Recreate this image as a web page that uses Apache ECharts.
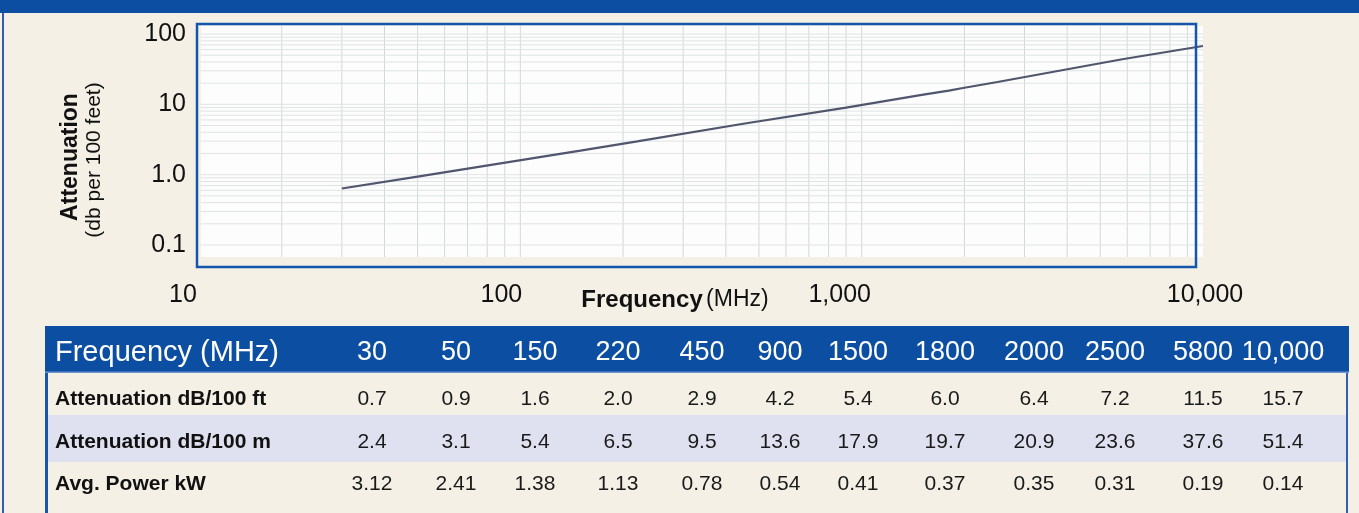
<!DOCTYPE html>
<html><head><meta charset="utf-8">
<script src="https://cdn.jsdelivr.net/npm/echarts@6/dist/echarts.min.js"></script>
<style>html,body{margin:0;padding:0;background:#f4f0e6}#c{width:1359px;height:513px}</style>
</head><body><div id="c"></div>
<script>
// ---------- data ----------
const frequencies = [30, 50, 150, 220, 450, 900, 1500, 1800, 2000, 2500, 5800, 10000];
const curveAttenuation = [0.635, 0.94, 2.2, 2.97, 5.29, 8.99, 13.6, 15.7, 17.2, 20.8, 43.7, 67.5];
const freqLabels = ['30', '50', '150', '220', '450', '900', '1500', '1800', '2000', '2500', '5800', '10,000'];
const attenPer100ft = [0.7, 0.9, 1.6, 2.0, 2.9, 4.2, 5.4, 6.0, 6.4, 7.2, 11.5, 15.7];
const attenPer100m = [2.4, 3.1, 5.4, 6.5, 9.5, 13.6, 17.9, 19.7, 20.9, 23.6, 37.6, 51.4];
const avgPowerKW = [3.12, 2.41, 1.38, 1.13, 0.78, 0.54, 0.41, 0.37, 0.35, 0.31, 0.19, 0.14];
const rowLabels = ['Attenuation dB/100 ft', 'Attenuation dB/100 m', 'Avg. Power kW'];
const xTickValues = [10, 100, 1000, 10000];
const xTickLabels = ['10', '100', '1,000', '10,000'];
const yTickValues = [0.1, 1, 10, 100];
const yTickLabels = ['0.1', '1.0', '10', '100'];
const xGridDecades = [10, 100, 1000];
const yGridDecades = [0.1, 1, 10];
const gridMultipliers = [1, 2, 3, 4, 5, 6, 7, 8, 9];

// ---------- layout / style ----------
const FONT = "'Liberation Sans', Arial, Helvetica, sans-serif";
const BLUE = '#0b4ea2';
const BG = '#f4f0e6';
const colCenters = [372, 456, 535, 618, 702, 780, 858, 945, 1034, 1115, 1203, 1283];
const rowCenters = [399, 442, 484];
const plotVisible = { xMin: 11.6, xMax: 10000, yMin: 0.0675, yMax: 130 };

const xGridValues = [];
xGridDecades.forEach(d => gridMultipliers.forEach(m => { const v = d * m; if (v > 10) xGridValues.push(v); }));
const yGridValues = [];
yGridDecades.forEach(d => gridMultipliers.forEach(m => yGridValues.push(+(d * m).toFixed(4))));
yGridValues.push(100);

function tickIndex(values, v) {
  const e = Math.round(Math.log10(v));
  return values.findIndex(t => Math.round(Math.log10(t)) === e);
}

const graphics = [];
graphics.push({ type: 'rect', shape: { x: 0, y: 0, width: 1359, height: 13 }, style: { fill: BLUE }, z: 0 });
graphics.push({ type: 'rect', shape: { x: 2, y: 13, width: 2, height: 500 }, style: { fill: '#2a60ae' }, z: 0 });
graphics.push({ type: 'rect', shape: { x: 201, y: 26, width: 1002, height: 231 }, style: { fill: '#fdfdfd' }, z: -5 });
graphics.push({ type: 'rect', shape: { x: 197, y: 24, width: 999, height: 243 }, style: { fill: null, stroke: '#1456ac', lineWidth: 2.5 }, z: 100 });
graphics.push({ type: 'text', x: 71, y: 157, rotation: Math.PI / 2,
  style: { text: 'Attenuation', font: 'bold 23px ' + FONT, fill: '#111', align: 'center', verticalAlign: 'middle' } });
graphics.push({ type: 'text', x: 94, y: 160, rotation: Math.PI / 2,
  style: { text: '(db per 100 feet)', font: '21px ' + FONT, fill: '#111', align: 'center', verticalAlign: 'middle' } });
graphics.push({ type: 'text', x: 675, y: 300,
  style: { text: '{b|Frequency} {r|(MHz)}', align: 'center', verticalAlign: 'middle',
    rich: { b: { font: 'bold 24px ' + FONT, fill: '#111' }, r: { font: '23px ' + FONT, fill: '#111' } } } });

// table
graphics.push({ type: 'rect', shape: { x: 45, y: 326, width: 1304, height: 46 }, style: { fill: BLUE } });
graphics.push({ type: 'rect', shape: { x: 48, y: 415, width: 1298, height: 47 }, style: { fill: '#e0e1f0' } });
graphics.push({ type: 'rect', shape: { x: 45, y: 371.5, width: 1304, height: 1.5 }, style: { fill: '#6d95d0' } });
graphics.push({ type: 'rect', shape: { x: 45, y: 373, width: 3, height: 140 }, style: { fill: '#1a55a8' } });
graphics.push({ type: 'rect', shape: { x: 1346, y: 373, width: 2, height: 140 }, style: { fill: '#2d62b0' } });
graphics.push({ type: 'text', x: 55, y: 353,
  style: { text: 'Frequency (MHz)', font: '29px ' + FONT, fill: '#ffffff', align: 'left', verticalAlign: 'middle' } });
freqLabels.forEach((t, i) => graphics.push({ type: 'text', x: colCenters[i], y: 353,
  style: { text: t, font: '27px ' + FONT, fill: '#ffffff', align: 'center', verticalAlign: 'middle' } }));
const rows = [attenPer100ft.map(v => v.toFixed(1)), attenPer100m.map(v => v.toFixed(1)), avgPowerKW.map(v => v.toFixed(2))];
rows.forEach((row, r) => {
  graphics.push({ type: 'text', x: 55, y: rowCenters[r],
    style: { text: rowLabels[r], font: 'bold 21px ' + FONT, fill: '#111', align: 'left', verticalAlign: 'middle' } });
  row.forEach((t, i) => graphics.push({ type: 'text', x: colCenters[i], y: rowCenters[r],
    style: { text: t, font: '21px ' + FONT, fill: '#1a1a1a', align: 'center', verticalAlign: 'middle' } }));
});

function gridRenderer(vertical, color) {
  return function (params, api) {
    let p1, p2;
    if (vertical) {
      const v = api.value(0);
      p1 = api.coord([v, plotVisible.yMin]); p2 = api.coord([v, plotVisible.yMax]);
    } else {
      const v = api.value(1);
      p1 = api.coord([plotVisible.xMin, v]); p2 = api.coord([plotVisible.xMax, v]);
    }
    return { type: 'line', silent: true,
      shape: { x1: p1[0], y1: p1[1], x2: p2[0], y2: p2[1] },
      style: { stroke: color, lineWidth: 1 } };
  };
}

const chart = echarts.init(document.getElementById('c'), null, { renderer: 'canvas' });
const tickRich = {};
[[8, 0], [0, 38], [0, 44], [4, 0]].forEach((p, i) => {
  tickRich['t' + i] = { fontSize: 25, fontFamily: FONT, color: '#111', padding: [0, p[1], 0, p[0]] };
});
chart.setOption({
  backgroundColor: BG,
  animation: false,
  grid: { left: 179, right: 156, top: 34, bottom: 268, containLabel: false, outerBoundsMode: 'none' },
  xAxis: {
    type: 'log', logBase: 10, min: 10, max: 10000, splitNumber: 3,
    axisLine: { show: false }, axisTick: { show: false }, splitLine: { show: false },
    axisLabel: {
      show: true, margin: 38, showMinLabel: true, showMaxLabel: true,
      color: '#111', fontFamily: FONT, fontSize: 25,
      formatter: v => { const i = tickIndex(xTickValues, v); return '{t' + i + '|' + xTickLabels[i] + '}'; },
      rich: tickRich
    }
  },
  yAxis: {
    type: 'log', logBase: 10, min: 0.1, max: 100, splitNumber: 3,
    axisLine: { show: false }, axisTick: { show: false }, splitLine: { show: false },
    axisLabel: {
      show: true, margin: -7, showMinLabel: true, showMaxLabel: true,
      color: '#111', fontFamily: FONT, fontSize: 25,
      formatter: v => yTickLabels[tickIndex(yTickValues, v)]
    }
  },
  graphic: { elements: graphics },
  series: [
    {
      type: 'custom', z: 1, silent: true, clip: false,
      renderItem: gridRenderer(true, '#d3d8d8'),
      data: xGridValues.map(v => [v, 1])
    },
    {
      type: 'custom', z: 1, silent: true, clip: false,
      renderItem: gridRenderer(false, '#e0e4e4'),
      data: yGridValues.map(v => [100, v])
    },
    {
      type: 'line', z: 3, silent: true, showSymbol: false, symbol: 'none', clip: false,
      lineStyle: { color: '#4f566d', width: 2.2 },
      data: frequencies.map((f, i) => [f, curveAttenuation[i]])
    }
  ]
});
</script></body></html>
